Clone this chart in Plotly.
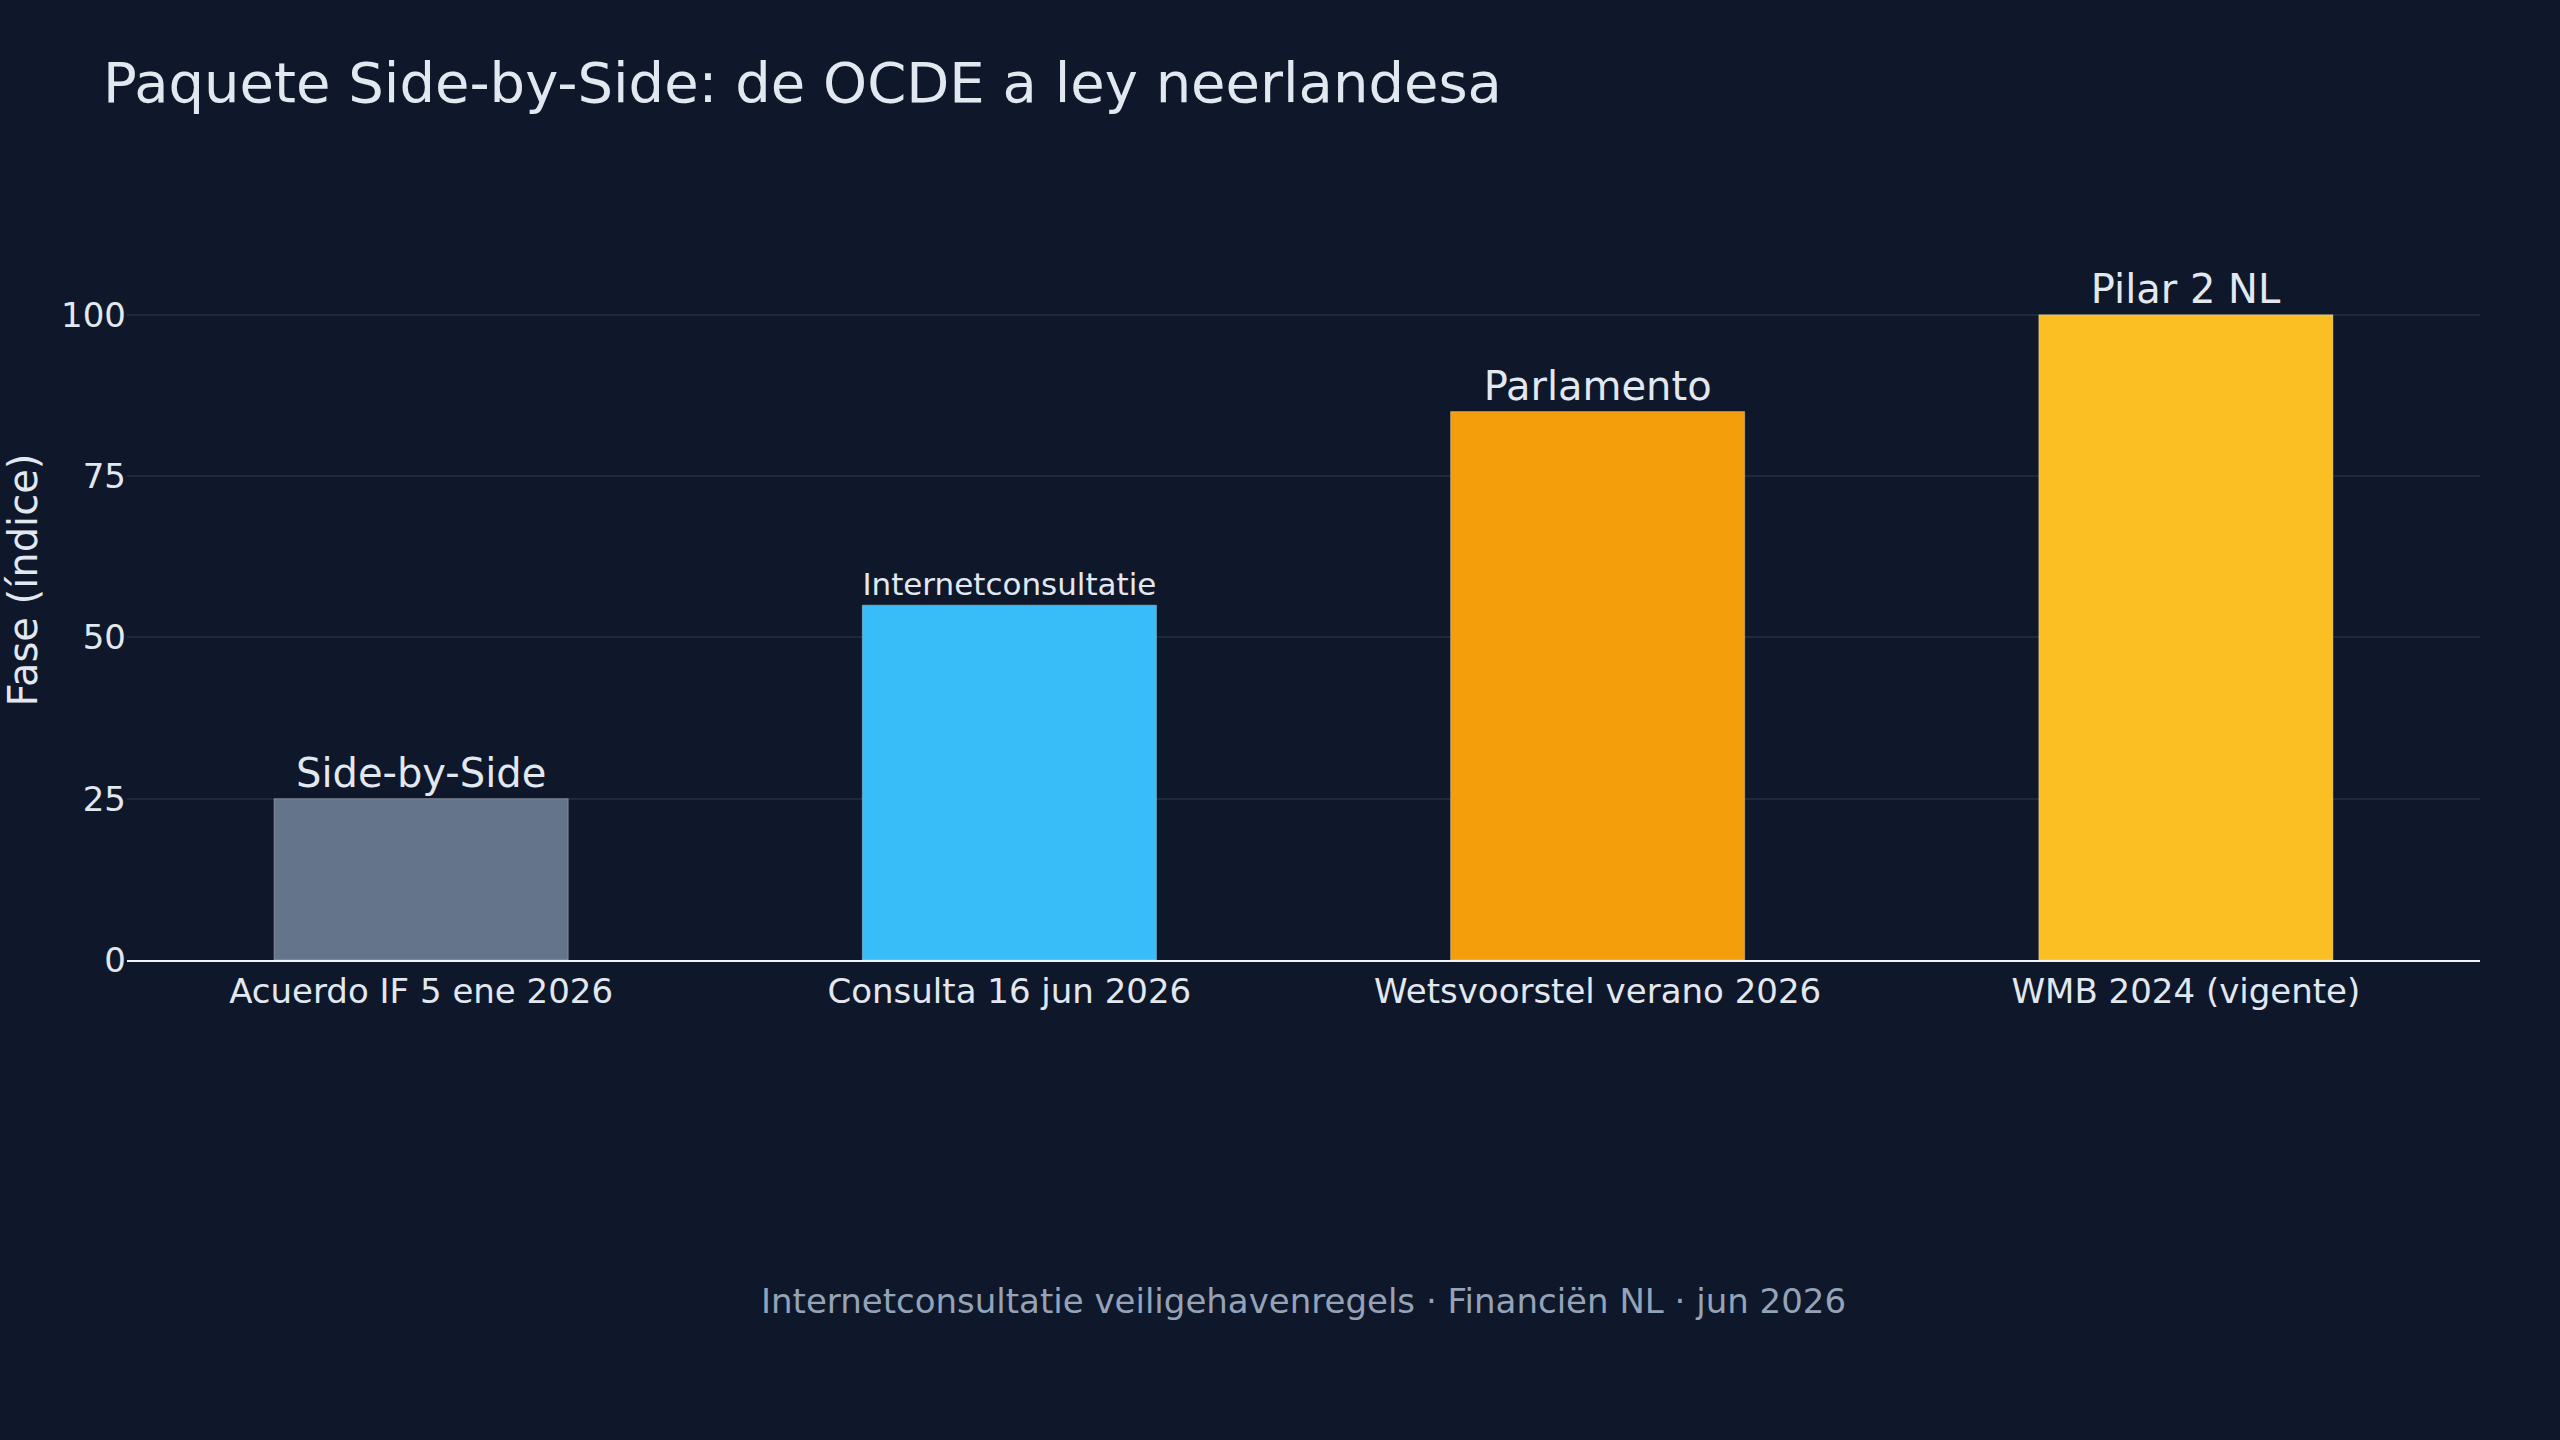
import plotly.graph_objects as go

categories = ["Acuerdo IF 5 ene 2026", "Consulta 16 jun 2026", "Wetsvoorstel verano 2026", "WMB 2024 (vigente)"]
values = [25, 55, 85, 100]
labels = ["Side-by-Side", "Internetconsultatie", "Parlamento", "Pilar 2 NL"]
colors = ["#64748b", "#38bdf8", "#f59e0b", "#fbbf24"]
y_ticks = [0, 25, 50, 75, 100]

title_text = "Paquete Side-by-Side: de OCDE a ley neerlandesa"
y_title = "Fase (índice)"
footer_text = "Internetconsultatie veiligehavenregels · Financiën NL · jun 2026"

FONT = "DejaVu Sans"
BG = "#0f172a"
TXT = "#e2e8f0"

M_T, M_B = 200, 480

fig = go.Figure(go.Bar(
    x=categories, y=values, text=labels, textposition="outside",
    marker=dict(color=colors, line=dict(color="rgba(226,232,240,0.35)", width=1)),
    width=0.5,
    textfont=dict(family=FONT, size=40, color=TXT),
    cliponaxis=False,
))

fig.update_layout(
    width=2560, height=1440,
    paper_bgcolor=BG, plot_bgcolor=BG,
    margin=dict(l=127, r=80, t=M_T, b=M_B),
    font=dict(family=FONT, color=TXT, size=34),
    title=dict(text=title_text, x=103/2560, xanchor="left", y=1-82/1440, yanchor="middle",
               font=dict(family=FONT, size=56, color=TXT)),
    showlegend=False,
    bargap=0.5,
)
fig.update_yaxes(range=[0, 117.8], tickvals=y_ticks, gridcolor="#1e293b", gridwidth=2,
                 zeroline=False, showline=False, ticks="", tickfont=dict(size=34, color=TXT),
                 title=dict(text=y_title, font=dict(size=40, color=TXT), standoff=18))
fig.update_xaxes(showline=True, linecolor="#f1f5f9", linewidth=2, ticks="",
                 tickfont=dict(size=34, color=TXT))

plot_h = 1440 - M_T - M_B
fig.add_annotation(text=footer_text, x=0.5, xref="paper", y=(1440 - M_B - 1301) / plot_h,
                   yref="paper", yanchor="middle", xanchor="center", showarrow=False,
                   font=dict(family=FONT, size=34, color="#94a3b8"))

fig.write_html("out.html")
